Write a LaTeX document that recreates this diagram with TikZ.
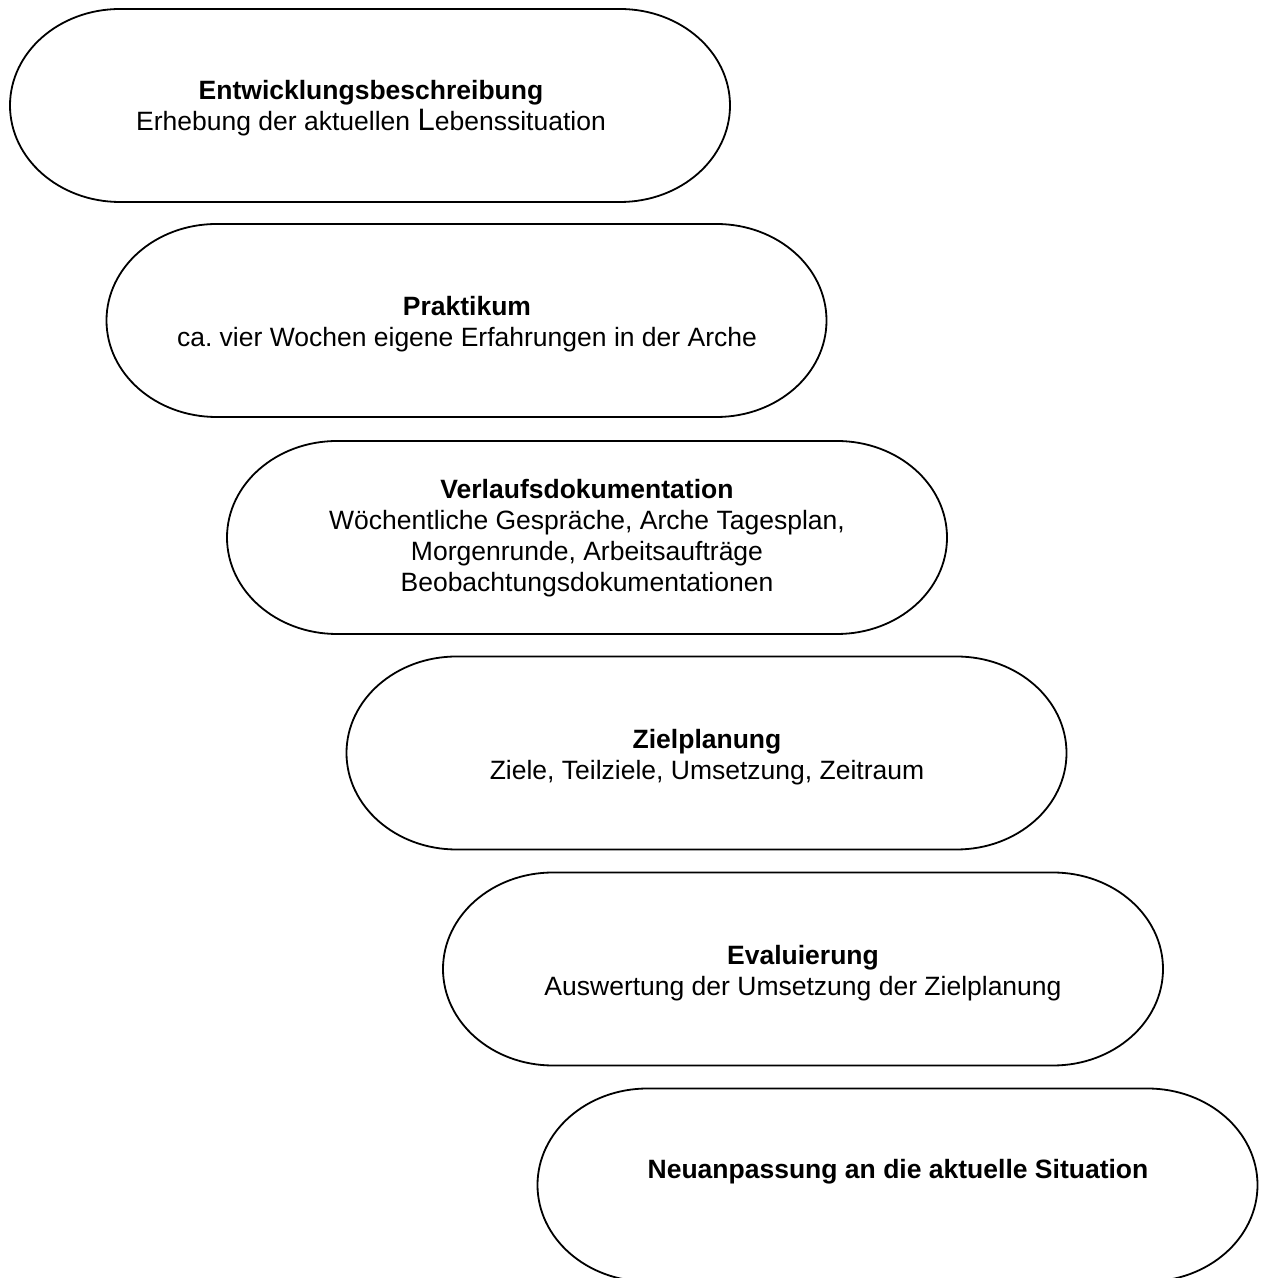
\documentclass[tikz,border=0pt]{standalone}
\usepackage{fontspec}
\setmainfont{Liberation Sans}
\frenchspacing
\begin{document}
\begin{tikzpicture}[x=1pt,y=1pt,
  shapeline/.style={draw=black, line width=1.8pt},
  label/.style={align=center, inner sep=0pt, font=\fontsize{26.5}{31}\selectfont}]
\useasboundingbox (0,0) rectangle (1261,1278);
\newcommand\stadium[2]{%
  \draw[shapeline] (#1-250,#2+96.5) -- (#1+250,#2+96.5)
    arc[start angle=90,end angle=-90,x radius=110,y radius=96.5]
    -- (#1-250,#2-96.5)
    arc[start angle=270,end angle=90,x radius=110,y radius=96.5] -- cycle;}
\stadium{370}{1172.5}
\stadium{466.5}{957.5}
\stadium{587}{740.5}
\stadium{706.5}{525}
\stadium{803}{309}
\stadium{897.5}{93}
\node[label] (n1) at (371,1170) {\textbf{Entwicklungsbeschreibung}\\Erhebung der aktuellen {\fontsize{31}{31}\selectfont L}ebenssituation};
\node[label] (n2) at (467,954) {\textbf{Praktikum}\\ca. vier Wochen eigene Erfahrungen in der Arche};
\node[label] (n3) at (587,740) {\textbf{Verlaufsdokumentation}\\Wöchentliche Gespräche, Arche Tagesplan,\\Morgenrunde, Arbeitsaufträge\\Beobachtungsdokumentationen};
\node[label] (n4) at (707,521) {\textbf{Zielplanung}\\Ziele, Teilziele, Umsetzung, Zeitraum};
\node[label] (n5) at (803,305) {\textbf{Evaluierung}\\Auswertung der Umsetzung der Zielplanung};
\node[label] (n6) at (898,106) {\textbf{Neuanpassung an die aktuelle Situation}};
\end{tikzpicture}
\end{document}
